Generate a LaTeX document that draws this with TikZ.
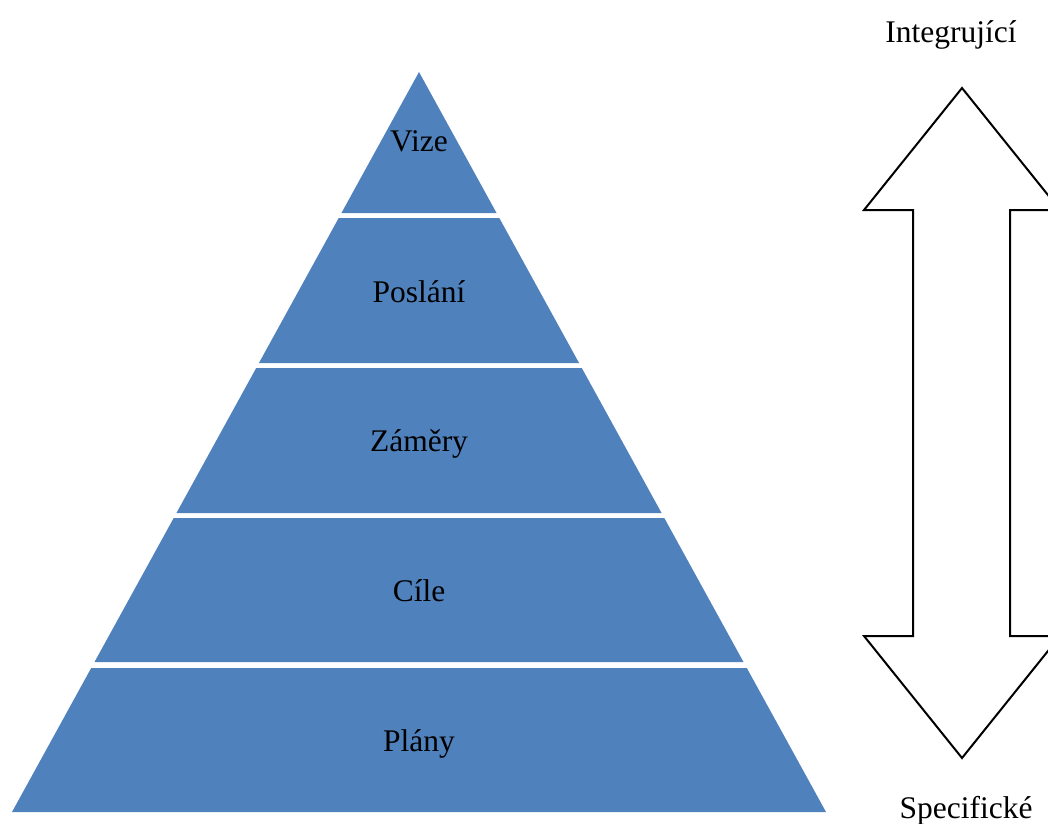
\documentclass[tikz,border=0pt]{standalone}
\usepackage{fontspec}
\setmainfont{Liberation Serif}
\definecolor{pyr}{HTML}{4F81BD}
\begin{document}
\begin{tikzpicture}[x=1pt,y=-1pt,
  band/.style={fill=pyr, draw=none},
  lab/.style={font=\fontsize{31.5}{36}\selectfont, anchor=base, inner sep=0pt, text=black},
  bigarrow/.style={draw=black, line width=2pt, line join=miter, fill=white}]
\useasboundingbox (0,0) rectangle (1048,823);
\clip (0,0) rectangle (1048,823);
% pyramid bands
\path[band] (419,72) -- (496.55,213) -- (341.45,213) -- cycle;
\path[band] (338.7,218) -- (499.3,218) -- (579.05,363) -- (258.95,363) -- cycle;
\path[band] (256.2,368) -- (581.8,368) -- (661.55,513) -- (176.45,513) -- cycle;
\path[band] (173.7,518) -- (664.3,518) -- (743.5,662) -- (94.5,662) -- cycle;
\path[band] (91.2,668) -- (746.8,668) -- (826,812) -- (12,812) -- cycle;
% labels
\node[lab] (vize) at (419,151) {Vize};
\node[lab] (poslani) at (419,302) {Poslání};
\node[lab] (zamery) at (419,451) {Záměry};
\node[lab] (cile) at (419,601) {Cíle};
\node[lab] (plany) at (419,751) {Plány};
% double arrow
\path[bigarrow] (962,88) -- (1060,210) -- (1010,210) -- (1010,636) -- (1060,636) -- (962,758) -- (864,636) -- (913,636) -- (913,210) -- (864,210) -- cycle;
\node[lab] (integ) at (951,42) {Integrující};
\node[lab] (spec) at (966,818) {Specifické};
\end{tikzpicture}
\end{document}
